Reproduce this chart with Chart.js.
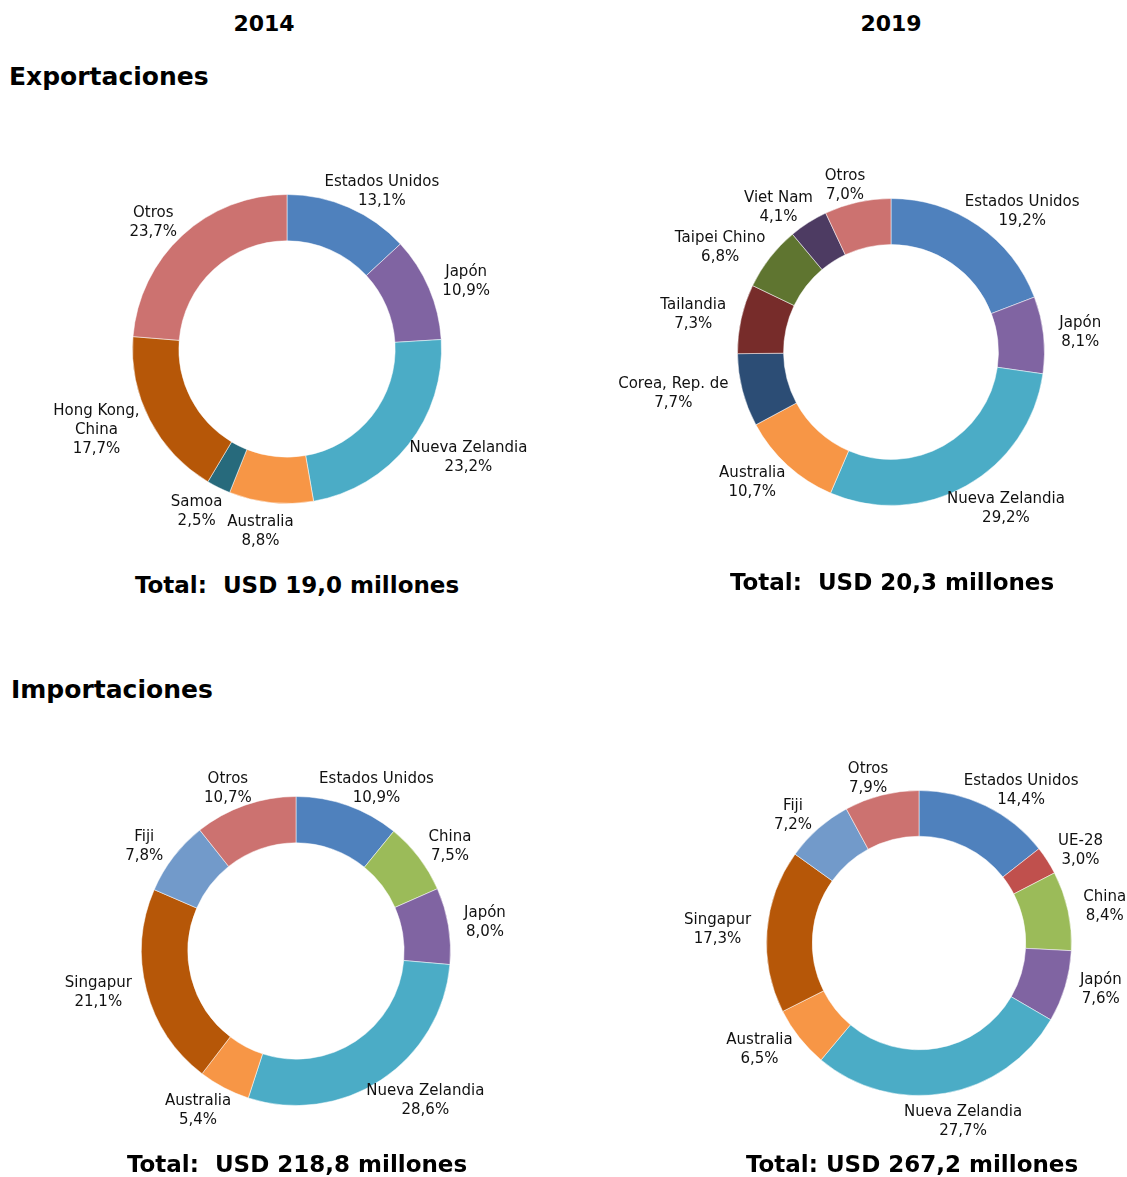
<!DOCTYPE html>
<html lang="es">
<head>
<meta charset="utf-8">
<title>Exportaciones e importaciones por destino y origen</title>
<script src="https://cdn.jsdelivr.net/npm/chart.js@4.4.1/dist/chart.umd.min.js"></script>
<style>
    body { margin: 0; background: #fff; overflow: hidden; }
    #pagina { position: relative; width: 1127px; height: 1177px; font-family: "DejaVu Sans", Verdana, sans-serif; color: #000; }
    .anio, .total, .seccion { position: absolute; font-weight: bold; white-space: nowrap; }
    .anio { font-size: 22px; transform: translate(-50%, -50%); }
    .total { font-size: 23px; transform: translate(-50%, -50%); }
    .seccion { font-size: 25px; transform: translateY(-50%); }
    canvas { position: absolute; }
</style>
</head>
<body>
<div id="pagina">
    <div class="anio" style="left:264px; top:23px;">2014</div>
    <div class="anio" style="left:891px; top:23px;">2019</div>
    <div class="seccion" style="left:9px; top:76px;">Exportaciones</div>
    <div class="seccion" style="left:11px; top:689px;">Importaciones</div>

    <canvas id="exp2014" width="560" height="440" style="left:7px; top:129px;"></canvas>
    <canvas id="exp2019" width="560" height="440" style="left:611px; top:132px;"></canvas>
    <canvas id="imp2014" width="560" height="440" style="left:16px; top:731px;"></canvas>
    <canvas id="imp2019" width="560" height="440" style="left:639px; top:723px;"></canvas>

    <div class="total" style="left:297px; top:585px;">Total:&nbsp; USD 19,0 millones</div>
    <div class="total" style="left:892px; top:582px;">Total:&nbsp; USD 20,3 millones</div>
    <div class="total" style="left:297px; top:1164px;">Total:&nbsp; USD 218,8 millones</div>
    <div class="total" style="left:912px; top:1164px;">Total: USD 267,2 millones</div>
</div>

<script>
// Datos (participación en %), en el orden de las agujas del reloj desde arriba
const paisesExp2014 = ['Estados Unidos', 'Japón', 'Nueva Zelandia', 'Australia', 'Samoa', 'Hong Kong,\nChina', 'Otros'];
const valoresExp2014 = [13.1, 10.9, 23.2, 8.8, 2.5, 17.7, 23.7];

const paisesExp2019 = ['Estados Unidos', 'Japón', 'Nueva Zelandia', 'Australia', 'Corea, Rep. de', 'Tailandia', 'Taipei Chino', 'Viet Nam', 'Otros'];
const valoresExp2019 = [19.2, 8.1, 29.2, 10.7, 7.7, 7.3, 6.8, 4.1, 7.0];

const paisesImp2014 = ['Estados Unidos', 'China', 'Japón', 'Nueva Zelandia', 'Australia', 'Singapur', 'Fiji', 'Otros'];
const valoresImp2014 = [10.9, 7.5, 8.0, 28.6, 5.4, 21.1, 7.8, 10.7];

const paisesImp2019 = ['Estados Unidos', 'UE-28', 'China', 'Japón', 'Nueva Zelandia', 'Australia', 'Singapur', 'Fiji', 'Otros'];
const valoresImp2019 = [14.4, 3.0, 8.4, 7.6, 27.7, 6.5, 17.3, 7.2, 7.9];

// Colores por país
const colorPais = {
    'Estados Unidos': '#4F81BD',
    'Japón': '#8064A2',
    'Nueva Zelandia': '#4BACC6',
    'Australia': '#F79646',
    'Samoa': '#276A7C',
    'Hong Kong,\nChina': '#B65708',
    'Otros': '#CC7270',
    'Corea, Rep. de': '#2C4D75',
    'Tailandia': '#772C2A',
    'Taipei Chino': '#5F7530',
    'Viet Nam': '#4D3B62',
    'China': '#9BBB59',
    'Singapur': '#B65708',
    'Fiji': '#729ACA',
    'UE-28': '#C0504D'
};

const FUENTE = '15px "DejaVu Sans", Verdana, sans-serif';
const ALTO_LINEA = 19;

// Etiquetas fuera de cada sector: nombre + porcentaje
const etiquetasFuera = {
    id: 'etiquetasFuera',
    afterDraw(chart) {
        const ctx = chart.ctx;
        const meta = chart.getDatasetMeta(0);
        const valores = chart.data.datasets[0].data;
        ctx.save();
        ctx.font = FUENTE;
        ctx.fillStyle = '#111';
        ctx.textAlign = 'center';
        ctx.textBaseline = 'middle';
        meta.data.forEach((arc, i) => {
            const p = arc.getProps(['x', 'y', 'startAngle', 'endAngle', 'outerRadius'], true);
            const medio = (p.startAngle + p.endAngle) / 2;
            const dx = Math.cos(medio), dy = Math.sin(medio);
            const lineas = chart.data.labels[i].split('\n');
            lineas.push(valores[i].toFixed(1).replace('.', ',') + '%');
            const ancho = Math.max(...lineas.map(l => ctx.measureText(l).width));
            const alto = lineas.length * ALTO_LINEA;
            const cx = p.x + dx * (p.outerRadius + 10) + dx * ancho / 2 + Math.sign(dx) * 6;
            // abajo la etiqueta se separa más del anillo que arriba
            const extraY = dy > 0 ? dy * dy * alto * 0.6 : dy * alto * 0.3;
            const cy = p.y + dy * (p.outerRadius + 6) + extraY;
            lineas.forEach((l, k) => {
                ctx.fillText(l, cx, cy - alto / 2 + ALTO_LINEA * (k + 0.5));
            });
        });
        ctx.restore();
    }
};

function crearDona(id, paises, valores, radio) {
    const canvas = document.getElementById(id);
    const padX = canvas.width / 2 - radio;
    const padY = canvas.height / 2 - radio;
    return new Chart(canvas.getContext('2d'), {
        type: 'doughnut',
        data: {
            labels: paises,
            datasets: [{
                data: valores,
                backgroundColor: paises.map(p => colorPais[p]),
                borderColor: 'rgba(255, 255, 255, 0.5)',
                borderWidth: 1
            }]
        },
        options: {
            responsive: false,
            animation: false,
            events: [],
            cutout: '70%',
            layout: { padding: { left: padX, right: padX, top: padY, bottom: padY } },
            plugins: {
                legend: { display: false },
                tooltip: { enabled: false }
            }
        },
        plugins: [etiquetasFuera]
    });
}

crearDona('exp2014', paisesExp2014, valoresExp2014, 155);
crearDona('exp2019', paisesExp2019, valoresExp2019, 154);
crearDona('imp2014', paisesImp2014, valoresImp2014, 155);
crearDona('imp2019', paisesImp2019, valoresImp2019, 153);
</script>
</body>
</html>
